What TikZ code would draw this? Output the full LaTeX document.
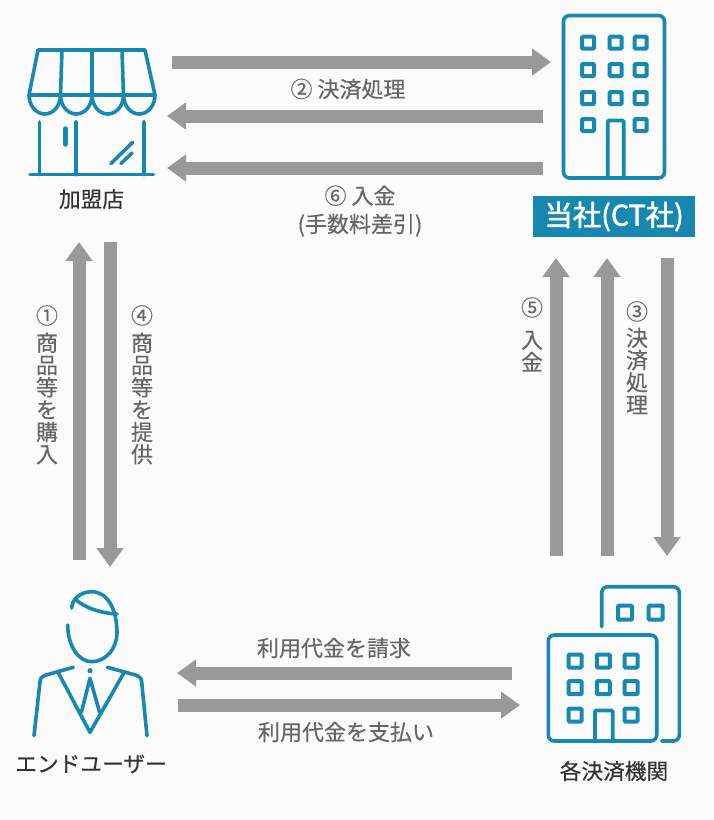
\documentclass[tikz,border=0pt]{standalone}
\usepackage{fontspec}
\setmainfont{Noto Sans CJK JP}[FakeBold=0.3]
\newfontfamily\labelfont{Noto Sans CJK JP}[FakeBold=2]
\usetikzlibrary{arrows.meta}
\definecolor{iconblue}{HTML}{1788B0}
\definecolor{flowgray}{HTML}{999999}
\definecolor{paper}{HTML}{FBFBFB}
\definecolor{notegray}{HTML}{666666}
\definecolor{namegray}{HTML}{333333}
\tikzset{
  icon/.style={draw=iconblue,line width=3.6pt,line cap=round,line join=round},
  winbox/.style={draw=iconblue,line width=4pt,rounded corners=1pt},
  flow/.style={draw=flowgray,line width=13pt,-{Triangle[length=19pt,width=26pt,fill=flowgray]}},
  note/.style={text=notegray,inner sep=0pt,align=center,font=\fontsize{22}{22.3}\selectfont},
  partyname/.style={text=namegray,inner sep=0pt,font=\fontsize{21.7}{24}\selectfont},
}
\begin{document}
\begin{tikzpicture}[x=1pt,y=-1pt]
\useasboundingbox (0,0) rectangle (714,820);
\fill[paper] (0,0) rectangle (714,820);

\coordinate (shopA) at (172,62);
\coordinate (ctA) at (551,62);
\coordinate (ctB) at (543,116);
\coordinate (shopB) at (167,116);
\coordinate (ctC) at (543,168);
\coordinate (shopC) at (167,168);
\coordinate (userA) at (79,560);
\coordinate (shopD) at (79,242);
\coordinate (shopE) at (110,242);
\coordinate (userB) at (110,567);
\coordinate (bankA) at (556,556);
\coordinate (ctD) at (556,258);
\coordinate (bankB) at (607,556);
\coordinate (ctE) at (607,258);
\coordinate (ctF) at (667,258);
\coordinate (bankC) at (667,556);
\coordinate (bankD) at (512,673);
\coordinate (userC) at (177,673);
\coordinate (userD) at (178,705);
\coordinate (bankE) at (520,705);

\draw[flow] (shopA) -- (ctA);
\draw[flow] (ctB) -- (shopB);
\draw[flow] (ctC) -- (shopC);
\draw[flow] (userA) -- (shopD);
\draw[flow] (shopE) -- (userB);
\draw[flow] (bankA) -- (ctD);
\draw[flow] (bankB) -- (ctE);
\draw[flow] (ctF) -- (bankC);
\draw[flow] (bankD) -- (userC);
\draw[flow] (userD) -- (bankE);

\draw[icon] (29,95) -- (38,50) -- (145,50) -- (155,95) -- cycle;
\draw[icon] (62,50) -- (60.5,95);
\draw[icon] (92,50) -- (92,95);
\draw[icon] (122,50) -- (123.5,95);
\foreach \x in {29,60.5,92,123.5}
  \draw[icon] (\x,95) arc (180:0:15.75 and 19);
\draw[icon] (39.5,122) -- (39.5,174.5);
\draw[icon] (76,122) -- (76,174.5);
\draw[icon] (144,122) -- (144,174.5);
\draw[icon] (30,174.5) -- (153.5,174.5);
\draw[icon,line width=5.5pt] (65.5,129) -- (65.5,144);
\draw[icon] (132.5,142.5) -- (111,163.5);
\draw[icon] (132,153) -- (121,163.5);

\draw[icon,rounded corners=6pt] (563.5,15.5) rectangle (664.5,178);
\foreach \y in {42.7,70,98}
  \foreach \x in {588,615.7,640.7}
    \draw[winbox] (\x-6,\y-6) rectangle (\x+6,\y+6);
\foreach \x in {588,640.7}
  \draw[winbox] (\x-6,125-6) rectangle (\x+6,125+6);
\draw[icon,line cap=butt,rounded corners=1pt] (607.7,178) -- (607.7,120.5) -- (623.7,120.5) -- (623.7,178);

\draw[icon] (67.7,625) .. controls (67.7,645) and (78,661.7) .. (91.7,661.7) .. controls (106,661.7) and (117,648) .. (117,633) .. controls (117,610) and (108,591.7) .. (91.7,591.7) .. controls (80,591.7) and (71.7,600) .. (71.7,608);
\draw[icon] (75,599) .. controls (85,608) and (100,613) .. (117,614);
\draw[icon] (73.3,667.3) -- (46,675) .. controls (42,676.5) and (40,678) .. (40,682) -- (34,735.7);
\draw[icon] (107.3,667.3) -- (135.5,675) .. controls (139.5,676.5) and (141.5,678) .. (141.7,682) -- (147,735.7);
\draw[icon] (58.3,672.7) -- (90,732.3) -- (124,672.7);
\draw[icon] (81.5,712) -- (90,678.3) -- (99.5,712);
\fill[iconblue] (90,670.7) circle (2.6);

\draw[icon,rounded corners=6pt] (548.3,635) rectangle (656.7,741);
\foreach \y in {661,687.7}
  \foreach \x in {575,603.3,631}
    \draw[winbox] (\x-6.5,\y-6.5) rectangle (\x+6.5,\y+6.5);
\foreach \x in {575,631}
  \draw[winbox] (\x-6.5,715-6.5) rectangle (\x+6.5,715+6.5);
\draw[icon,line cap=butt,rounded corners=1pt] (595,741) -- (595,710.5) -- (612.7,710.5) -- (612.7,741);
\draw[icon,rounded corners=6pt] (601.7,626.7) -- (601.7,586.7) -- (679.3,586.7) -- (679.3,741) -- (661.7,741);
\foreach \x in {625,655.7}
  \draw[winbox] (\x-7,612.7-7) rectangle (\x+7,612.7+7);

\node[partyname] (shopname) at (91.5,199) {加盟店};
\node[partyname] (username) at (91,764) {エンドユーザー};
\node[partyname] (bankname) at (614,771) {各決済機関};
\node[fill=iconblue,text=white,minimum width=162pt,minimum height=41pt,inner sep=0pt,font=\fontsize{28.5}{30}\labelfont] (ctname) at (614,216.5) {当社(CT社)};

\node[note] (payA) at (348,89) {② 決済処理};
\node[note] (payB) at (360,211) {⑥ 入金\\[6pt](手数料差引)};
\node[note] (billA) at (334,648) {利用代金を請求};
\node[note] (billB) at (346,732) {利用代金を支払い};
\node[note,anchor=north] (buyA) at (47,305) {①\\[5pt]商\\品\\等\\を\\購\\入};
\node[note,anchor=north] (buyB) at (142,305) {④\\[5pt]商\\品\\等\\を\\提\\供};
\node[note,anchor=north] (payC) at (532,297) {⑤\\[10pt]入\\金};
\node[note,anchor=north] (payD) at (637,301) {③\\[4pt]決\\済\\処\\理};
\end{tikzpicture}
\end{document}
